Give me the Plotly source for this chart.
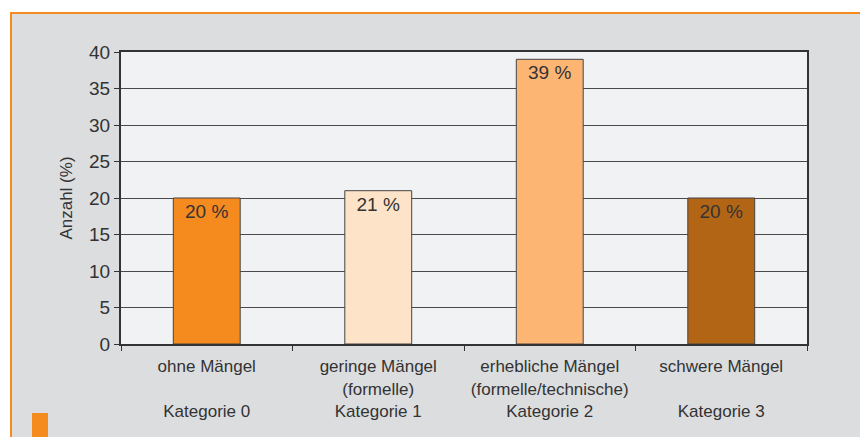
import plotly.graph_objects as go

# data
kategorien = ["ohne Mängel<br> <br>Kategorie 0",
              "geringe Mängel<br>(formelle)<br>Kategorie 1",
              "erhebliche Mängel<br>(formelle/technische)<br>Kategorie 2",
              "schwere Mängel<br> <br>Kategorie 3"]
anteile = [20, 21, 39, 20]
beschriftung = ["20 %", "21 %", "39 %", "20 %"]
farben = ["#f58a1f", "#fde3c7", "#fdb574", "#b36516"]

W, H = 860, 437
L, R, T, B = 121, 53, 52, 93
pw, ph = W - L - R, H - T - B


def px(x):
    return (x - L) / pw


def py(y):
    return (H - B - y) / ph


fig = go.Figure(go.Bar(
    x=kategorien, y=anteile, text=beschriftung,
    marker=dict(color=farben, line=dict(color="#444444", width=1)),
    width=0.39,
    textposition="inside", insidetextanchor="end",
    textfont=dict(size=19, color="#333333"),
    cliponaxis=False,
))

shapes = [
    # white margins top/left + orange frame
    dict(type="rect", xref="paper", yref="paper", x0=px(0), x1=px(W), y0=py(12), y1=py(0),
         fillcolor="white", line_width=0, layer="below"),
    dict(type="rect", xref="paper", yref="paper", x0=px(0), x1=px(10), y0=py(H), y1=py(0),
         fillcolor="white", line_width=0, layer="below"),
    dict(type="rect", xref="paper", yref="paper", x0=px(10), x1=px(W), y0=py(14), y1=py(12),
         fillcolor="#f58a1f", line_width=0, layer="below"),
    dict(type="rect", xref="paper", yref="paper", x0=px(10), x1=px(12), y0=py(H), y1=py(12),
         fillcolor="#f58a1f", line_width=0, layer="below"),
    dict(type="rect", xref="paper", yref="paper", x0=px(32), x1=px(48), y0=py(H), y1=py(413),
         fillcolor="#f58a1f", line_width=0, layer="below"),
]

fig.update_layout(
    width=W, height=H,
    margin=dict(l=L, r=R, t=T, b=B, autoexpand=False),
    paper_bgcolor="#dcdddf", plot_bgcolor="#f1f2f4",
    font=dict(family="Liberation Sans, Arial, sans-serif", color="#333333"),
    showlegend=False,
    shapes=shapes,
)
fig.update_xaxes(
    type="category", tickson="boundaries", ticks="outside", ticklen=5, tickcolor="#333333",
    showline=True, linecolor="#333333", linewidth=2, mirror=True,
    tickfont=dict(size=17, color="#333333"), ticklabelstandoff=6,
)
fig.update_yaxes(
    range=[0, 40], dtick=5, ticks="outside", ticklen=5, tickcolor="#333333",
    showline=True, linecolor="#333333", linewidth=2, mirror=True,
    showgrid=True, gridcolor="#4a4a4a", gridwidth=1.2, zeroline=False,
    tickfont=dict(size=19, color="#333333"),
    title=dict(text="Anzahl (%)", font=dict(size=17, color="#333333"), standoff=12),
)

fig.write_html("out.html", config={"displayModeBar": False},
               post_script="document.body.style.margin='0';document.body.style.overflow='hidden';")
